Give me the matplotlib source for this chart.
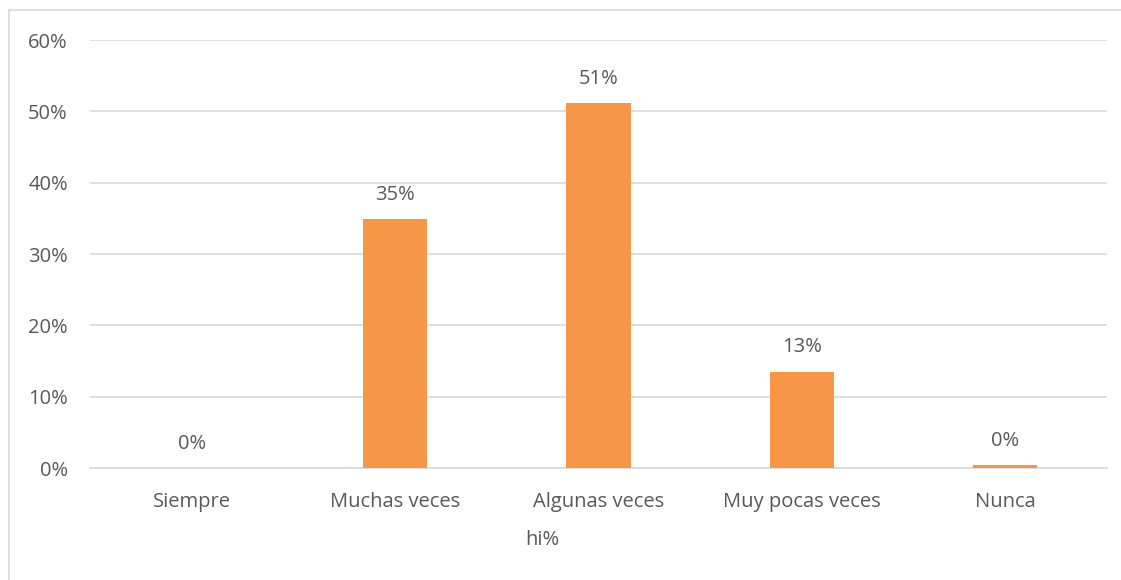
import matplotlib.pyplot as plt
from matplotlib.patches import Rectangle

categories = ["Siempre", "Muchas veces", "Algunas veces", "Muy pocas veces", "Nunca"]
values = [0.0, 34.9, 51.2, 13.5, 0.4]
labels = ["0%", "35%", "51%", "13%", "0%"]
yticks = [0, 10, 20, 30, 40, 50, 60]

plt.rcParams['font.family'] = ['Open Sans', 'DejaVu Sans']
txt = '#595959'
fs = 14.5

fig = plt.figure(figsize=(11.21, 5.8), dpi=100)
ax = fig.add_axes([90/1121, 1-468/580, (1107-90)/1121, (468-40)/580])

# outer chart frame
fig.patches.append(Rectangle((9/1121, -0.05), 1.0, 1.05-10/580, transform=fig.transFigure,
                             fill=False, edgecolor='#d9d9d9', linewidth=1.2))

x = range(len(categories))
bars = ax.bar(x, values, width=0.315, color='#f79646', zorder=3)
for b, v, lab in zip(bars, values, labels):
    ax.text(b.get_x() + b.get_width()/2, v + 2.0, lab, ha='center', va='bottom',
            fontsize=fs, color=txt)

ax.set_xlim(-0.5, len(categories) - 0.5)
ax.set_ylim(0, 60)
ax.set_yticks(yticks)
ax.set_yticklabels([f"{t}%" for t in yticks])
ax.set_xticks(list(x))
ax.set_xticklabels(categories)
ax.tick_params(axis='both', length=0, labelsize=fs, labelcolor=txt)
ax.tick_params(axis='x', pad=17)
ax.tick_params(axis='y', pad=16)
ax.grid(axis='y', color='#d9d9d9', linewidth=1.2, zorder=0)
for s in ['top', 'right', 'left']:
    ax.spines[s].set_visible(False)
ax.spines['bottom'].set_color('#d9d9d9')
ax.spines['bottom'].set_linewidth(1.2)

fig.text(542/1121, 1-540/580, "hi%", ha='center', va='center', fontsize=fs, color=txt)

fig.savefig("out.png", dpi=100)
